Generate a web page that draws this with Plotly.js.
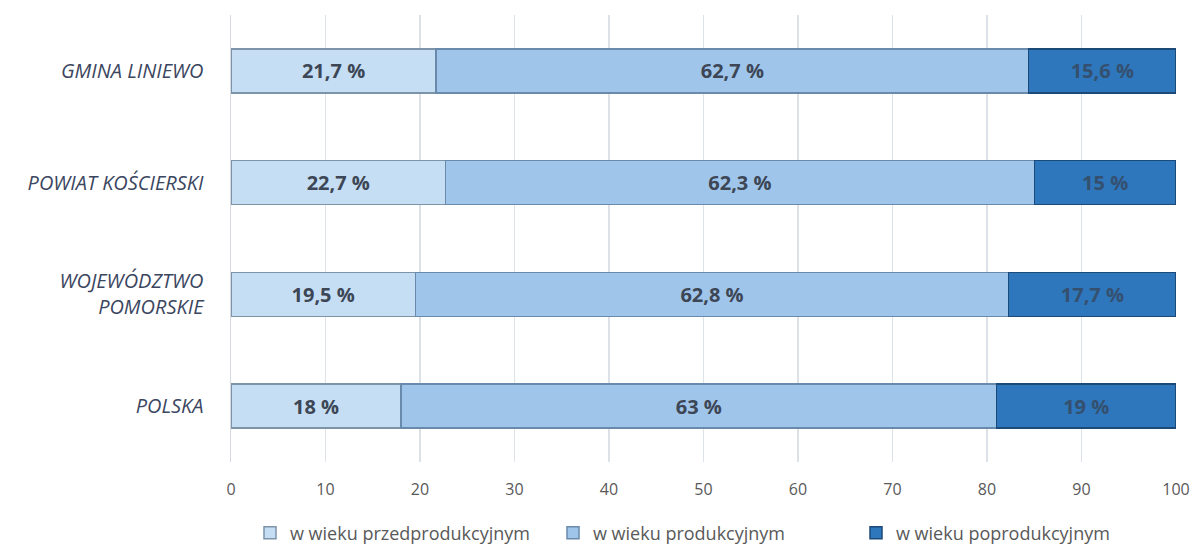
<!DOCTYPE html>
<html><head><meta charset="utf-8">
<script src="https://cdn.plot.ly/plotly-3.0.1.min.js"></script>
<style>html,body{margin:0;padding:0;background:#fff}#c{width:1200px;height:545px}</style>
</head><body><div id="c"></div>
<script>
const categories = ['GMINA LINIEWO', 'POWIAT KOŚCIERSKI', 'WOJEWÓDZTWO<br>POMORSKIE', 'POLSKA'];
const seriesNames = ['w wieku przedprodukcyjnym', 'w wieku produkcyjnym', 'w wieku poprodukcyjnym'];
const przed = [21.7, 22.7, 19.5, 18];
const prod = [62.7, 62.3, 62.8, 63];
const popr = [15.6, 15, 17.7, 19];
const tickVals = [0,10,20,30,40,50,60,70,80,90,100];

const colors = ['#c6def4', '#a0c5ea', '#2f77bc'];
const lines = ['#7d93a8', '#6a8aab', '#1c4a78'];
const fmt = v => String(v).replace('.', ',') + ' %';
const series = [przed, prod, popr];
const FONT = 'Open Sans, Liberation Sans, Arial';
const traces = series.map((vals, i) => ({
  type: 'bar', orientation: 'h', name: seriesNames[i],
  y: categories, x: vals,
  text: vals.map(fmt), textposition: 'inside', insidetextanchor: 'middle',
  textfont: {family: FONT, size: 20, color: i === 2 ? '#34506e' : '#3c4655', weight: 'bold'},
  marker: {color: colors[i], line: {color: lines[i], width: 1.5}},
  hoverinfo: 'skip'
}));

const layout = {
  width: 1200, height: 545,
  margin: {l: 231, r: 24, t: 15, b: 83, autoexpand: false},
  barmode: 'stack', bargap: 0.607,
  showlegend: true,
  legend: {orientation: 'h', xref: 'container', yref: 'container', x: 250/1200, xanchor: 'left', y: 12/545, yanchor: 'middle',
    font: {family: FONT, size: 18, color: '#595959'}, itemwidth: 30, entrywidth: 258, traceorder: 'normal'},
  xaxis: {range: [0, 100], tickvals: tickVals, ticktext: tickVals.map(String), showgrid: true, gridcolor: '#dde1e8', gridwidth: 1.5,
    zeroline: false, showline: false, ticks: '', ticklabelstandoff: 16, tickfont: {family: FONT, size: 16, color: '#595959'}},
  yaxis: {autorange: 'reversed', showgrid: false, showline: true, linecolor: '#d6dae0', linewidth: 1.5, ticks: '', ticklabelstandoff: 22,
    tickfont: {family: FONT, size: 20, color: '#3b4660', style: 'italic'}},
  paper_bgcolor: '#fff', plot_bgcolor: '#fff',
  font: {family: FONT}
};
Plotly.newPlot('c', traces, layout, {displayModeBar: false, staticPlot: true});
</script></body></html>
